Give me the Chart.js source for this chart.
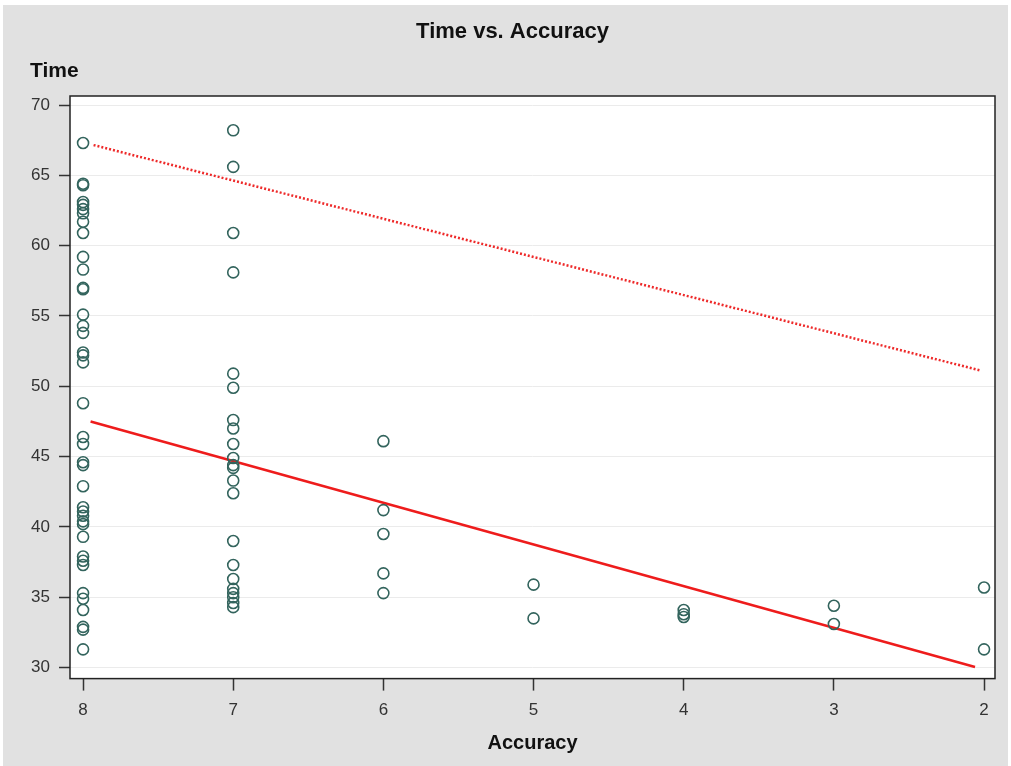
<!DOCTYPE html>
<html>
<head>
<meta charset="utf-8">
<script src="https://cdn.jsdelivr.net/npm/chart.js@4"></script>
<style>
  html, body { margin: 0; padding: 0; background: #ffffff; }
  #wrap { width: 1011px; height: 766px; }
</style>
</head>
<body>
<div id="wrap"><canvas id="timeChart" width="1011" height="766"></canvas></div>
<script>
// data
const xTicks = [8, 7, 6, 5, 4, 3, 2];
const yTicks = [30, 35, 40, 45, 50, 55, 60, 65, 70];

const timesAt8 = [67.3, 64.4, 64.3, 63.1, 62.9, 62.6, 62.3, 61.7, 60.9, 59.2, 58.3, 57.0, 56.9,
  55.1, 54.3, 53.8, 52.4, 52.2, 51.7, 48.8, 46.4, 45.9, 44.6, 44.4, 42.9, 41.4, 41.1, 40.8,
  40.4, 40.2, 39.3, 37.9, 37.6, 37.3, 35.3, 34.9, 34.1, 32.9, 32.7, 31.3];
const timesAt7 = [68.2, 65.6, 60.9, 58.1, 50.9, 49.9, 47.6, 47.0, 45.9, 44.9, 44.4, 44.2, 43.3,
  42.4, 39.0, 37.3, 36.3, 35.6, 35.3, 35.0, 34.6, 34.3];
const timesAt6 = [46.1, 41.2, 39.5, 36.7, 35.3];
const timesAt5 = [35.9, 33.5];
const timesAt4 = [34.1, 33.8, 33.6];
const timesAt3 = [34.4, 33.1];
const timesAt2 = [35.7, 31.3];

// fitted lines (end points)
const fitX = [7.95, 2.06];
const fitY = [47.5, 30.05];
const upperX = [7.93, 2.03];
const upperY = [67.15, 51.14];

const groups = [
  [8, timesAt8], [7, timesAt7], [6, timesAt6], [5, timesAt5],
  [4, timesAt4], [3, timesAt3], [2, timesAt2]
];
const points = [];
groups.forEach(([acc, times]) => {
  times.forEach((t) => points.push({ x: acc, y: t }));
});

// gray page, white plot area and black frame
const framePlugin = {
  id: "frame",
  beforeDraw(chart) {
    const c = chart.ctx;
    const a = chart.chartArea;
    c.save();
    c.fillStyle = "#e1e1e1";
    c.fillRect(3, 5, chart.width - 6, chart.height - 5);
    c.fillStyle = "#ffffff";
    c.fillRect(a.left, a.top, a.right - a.left, a.bottom - a.top);
    c.restore();
  },
  afterDraw(chart) {
    const c = chart.ctx;
    const a = chart.chartArea;
    c.save();
    c.strokeStyle = "#222222";
    c.lineWidth = 1.5;
    c.strokeRect(a.left, a.top, a.right - a.left, a.bottom - a.top);
    c.restore();
  },
};

const fontFamily = "'Liberation Sans', Arial, sans-serif";
const tickFont = { family: fontFamily, size: 17 };

new Chart(document.getElementById("timeChart"), {
  type: "scatter",
  data: {
    datasets: [
      {
        label: "Time",
        data: points,
        pointStyle: "circle",
        pointRadius: 5.5,
        pointBorderWidth: 1.6,
        borderColor: "#33645d",
        backgroundColor: "rgba(0,0,0,0)",
      },
      {
        label: "Fit",
        data: fitX.map((x, i) => ({ x: x, y: fitY[i] })),
        showLine: true,
        borderColor: "#ee1c1c",
        borderWidth: 2.5,
        pointRadius: 0,
      },
      {
        label: "Upper",
        data: upperX.map((x, i) => ({ x: x, y: upperY[i] })),
        showLine: true,
        borderColor: "#ee2a2a",
        borderWidth: 2.5,
        borderDash: [2, 2],
        pointRadius: 0,
      },
    ],
  },
  options: {
    responsive: false,
    animation: false,
    layout: { padding: { left: 30, right: 16, top: 8, bottom: 0 } },
    plugins: {
      legend: { display: false },
      tooltip: { enabled: false },
      title: {
        display: true,
        text: "Time vs. Accuracy",
        color: "#111111",
        font: { family: fontFamily, size: 22, weight: "bold" },
        padding: { top: 11, bottom: 11 },
      },
      subtitle: {
        display: true,
        text: "Time",
        align: "start",
        color: "#111111",
        font: { family: fontFamily, size: 21, weight: "bold" },
        padding: { top: 2, bottom: 12.4 },
      },
    },
    scales: {
      x: {
        type: "linear",
        reverse: true,
        min: 1.927,
        max: 8.087,
        afterBuildTicks: (axis) => {
          axis.ticks = xTicks.map((v) => ({ value: v }));
        },
        border: { display: false },
        grid: {
          drawOnChartArea: false,
          drawTicks: true,
          tickLength: 12,
          tickColor: "#333333",
          tickWidth: 1.5,
        },
        ticks: { color: "#333333", font: tickFont, padding: 10 },
        title: {
          display: true,
          text: "Accuracy",
          color: "#111111",
          font: { family: fontFamily, size: 20, weight: "bold" },
          padding: { top: 0, bottom: 11 },
        },
      },
      y: {
        type: "linear",
        min: 29.22,
        max: 70.64,
        afterBuildTicks: (axis) => {
          axis.ticks = yTicks.map((v) => ({ value: v }));
        },
        afterFit: (scale) => {
          scale.width = 40;
        },
        border: { display: false },
        grid: {
          color: "#ebebeb",
          drawTicks: true,
          tickLength: 11,
          tickColor: "#333333",
          tickWidth: 1.5,
        },
        ticks: { color: "#333333", font: tickFont, padding: 9 },
      },
    },
  },
  plugins: [framePlugin],
});
</script>
</body>
</html>
